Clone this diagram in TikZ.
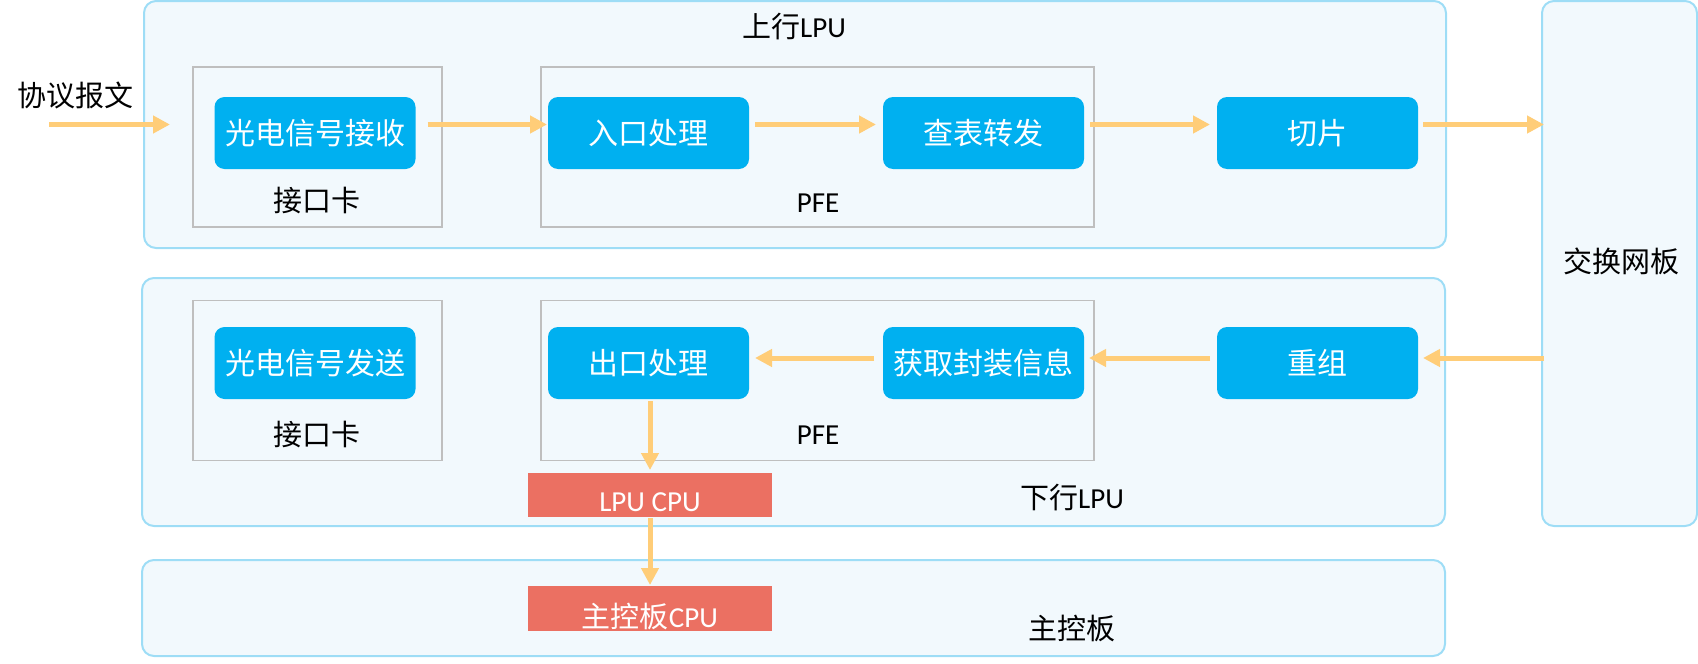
\documentclass[tikz,border=0pt]{standalone}
\usepackage{fontspec}
\setmainfont{Carlito}
\newfontfamily\cjk{Noto Sans CJK SC}
\newfontfamily\lat{Carlito}
\usetikzlibrary{arrows.meta}

\definecolor{boardfill}{HTML}{F2F9FD}
\definecolor{boardline}{HTML}{9EDDF6}
\definecolor{cardline}{HTML}{BFBFBF}
\definecolor{stageblue}{HTML}{00B0F0}
\definecolor{cpured}{HTML}{EB7062}
\definecolor{flowline}{HTML}{FFCD78}

\tikzset{
	board/.style={draw=boardline, fill=boardfill, line width=1pt, rounded corners=6pt, inner sep=0pt, outer sep=0pt},
	card/.style={draw=cardline, line width=0.75pt, inner sep=0pt, outer sep=0pt, minimum height=80pt},
	stage/.style={fill=stageblue, text=white, rounded corners=5pt, inner sep=0pt, outer sep=0pt,
		minimum width=100.5pt, minimum height=36pt, font=\cjk\fontsize{15pt}{18pt}\selectfont},
	cpubox/.style={fill=cpured, text=white, inner sep=0pt, outer sep=0pt, minimum width=122pt, minimum height=22pt,
		font=\cjk\fontsize{14.5pt}{17pt}\selectfont},
	tag/.style={inner sep=0pt, font=\cjk\fontsize{14.5pt}{17pt}\selectfont},
	flow/.style={draw=flowline, line width=2.5pt, -{Triangle[length=8.5pt,width=8.5pt]}, shorten <=3pt, shorten >=1pt}
}

\begin{document}
\begin{tikzpicture}[x=0.5pt, y=-0.5pt]
			%%%%% START %%%%%
			\useasboundingbox (0,0) rectangle (1698,664);
			
			% boards
			\node[board, minimum width=651pt, minimum height=123.5pt] (lpuUp) at (795,124.5) {};
			\node[board, minimum width=651.5pt, minimum height=124pt] (lpuDown) at (793.5,402) {};
			\node[board, minimum width=651.5pt, minimum height=48pt] (mainBoard) at (793.5,608) {};
			\node[board, minimum width=77.5pt, minimum height=262.5pt] (fabric) at (1619.5,263.5) {};
			
			% cards
			\node[card, minimum width=124.5pt] (cardUp) at (317.5,147) {};
			\node[card, minimum width=276.5pt] (pfeUp) at (817.5,147) {};
			\node[card, minimum width=124.5pt] (cardDown) at (317.5,380.5) {};
			\node[card, minimum width=276.5pt] (pfeDown) at (817.5,380.5) {};
			
			% upstream stages
			\node[stage] (rx) at (315,133) {光电信号接收};
			\node[stage] (ingress) at (648.5,133) {入口处理};
			\node[stage] (lookup) at (983.5,133) {查表转发};
			\node[stage] (slice) at (1317.5,133) {切片};
			
			% downstream stages
			\node[stage] (tx) at (315,363) {光电信号发送};
			\node[stage] (egress) at (648.5,363) {出口处理};
			\node[stage] (encap) at (983.5,363) {获取封装信息};
			\node[stage] (reasm) at (1317.5,363) {重组};
			
			% cpus
			\node[cpubox] (lpuCpu) at (650,495) {\raisebox{-3.75pt}[\height][\depth]{\lat LPU CPU}};
			\node[cpubox, minimum height=22.5pt] (mainCpu) at (650,608.5) {\raisebox{-3.75pt}[\height][\depth]{主控板{\lat CPU}}};
			
			% labels
			\node[tag] (msgLabel) at (76,95) {协议报文};
			\node[tag] (upLabel) at (794,27) {上行{\lat LPU}};
			\node[tag] (cardUpLabel) at (317,201) {接口卡};
			\node[tag] (pfeUpLabel) at (818,203) {\lat PFE};
			\node[tag] (cardDownLabel) at (317,435) {接口卡};
			\node[tag] (pfeDownLabel) at (818,435) {\lat PFE};
			\node[tag] (downLabel) at (1072,498) {下行{\lat LPU}};
			\node[tag] (mainLabel) at (1072,628) {主控板};
			\node[tag] (fabricLabel) at (1621,261) {交换网板};
			
			% flows
			\coordinate (msgStart) at (49,124.5);
			\coordinate (msgEnd) at (170,124.5);
			\coordinate (sliceOut) at ([yshift=4.25pt]slice.east);
			\coordinate (reasmIn) at ([yshift=2.5pt]reasm.east);
			
			\draw[flow, shorten <=0pt, shorten >=0pt] (msgStart) -- (msgEnd);
			\draw[flow, shorten <=6pt, shorten >=0.5pt] ([yshift=4.25pt]rx.east) -- ([yshift=4.25pt]ingress.west);
			\draw[flow, shorten >=3.5pt] ([yshift=4.25pt]ingress.east) -- ([yshift=4.25pt]lookup.west);
			\draw[flow, shorten >=3.5pt] ([yshift=4.25pt]lookup.east) -- ([yshift=4.25pt]slice.west);
			\draw[flow, shorten <=2.5pt, shorten >=-1pt] (sliceOut) -- (sliceOut -| fabric.west);
			
			\draw[flow, shorten <=-1pt, shorten >=2.5pt] (reasmIn -| fabric.west) -- (reasmIn);
			\draw[flow, shorten <=3.5pt, shorten >=2.5pt] ([yshift=2.5pt]reasm.west) -- ([yshift=2.5pt]encap.east);
			\draw[flow, shorten <=4.5pt, shorten >=3pt] ([yshift=2.5pt]encap.west) -- ([yshift=2.5pt]egress.east);
			
			\draw[flow, shorten <=1pt, shorten >=1.5pt] (egress.south -| lpuCpu.north) -- (lpuCpu.north);
			\draw[flow, shorten <=0.5pt, shorten >=0.5pt] (lpuCpu.south) -- (mainCpu.north);
			%%%%% END %%%%%
\end{tikzpicture}
\end{document}
